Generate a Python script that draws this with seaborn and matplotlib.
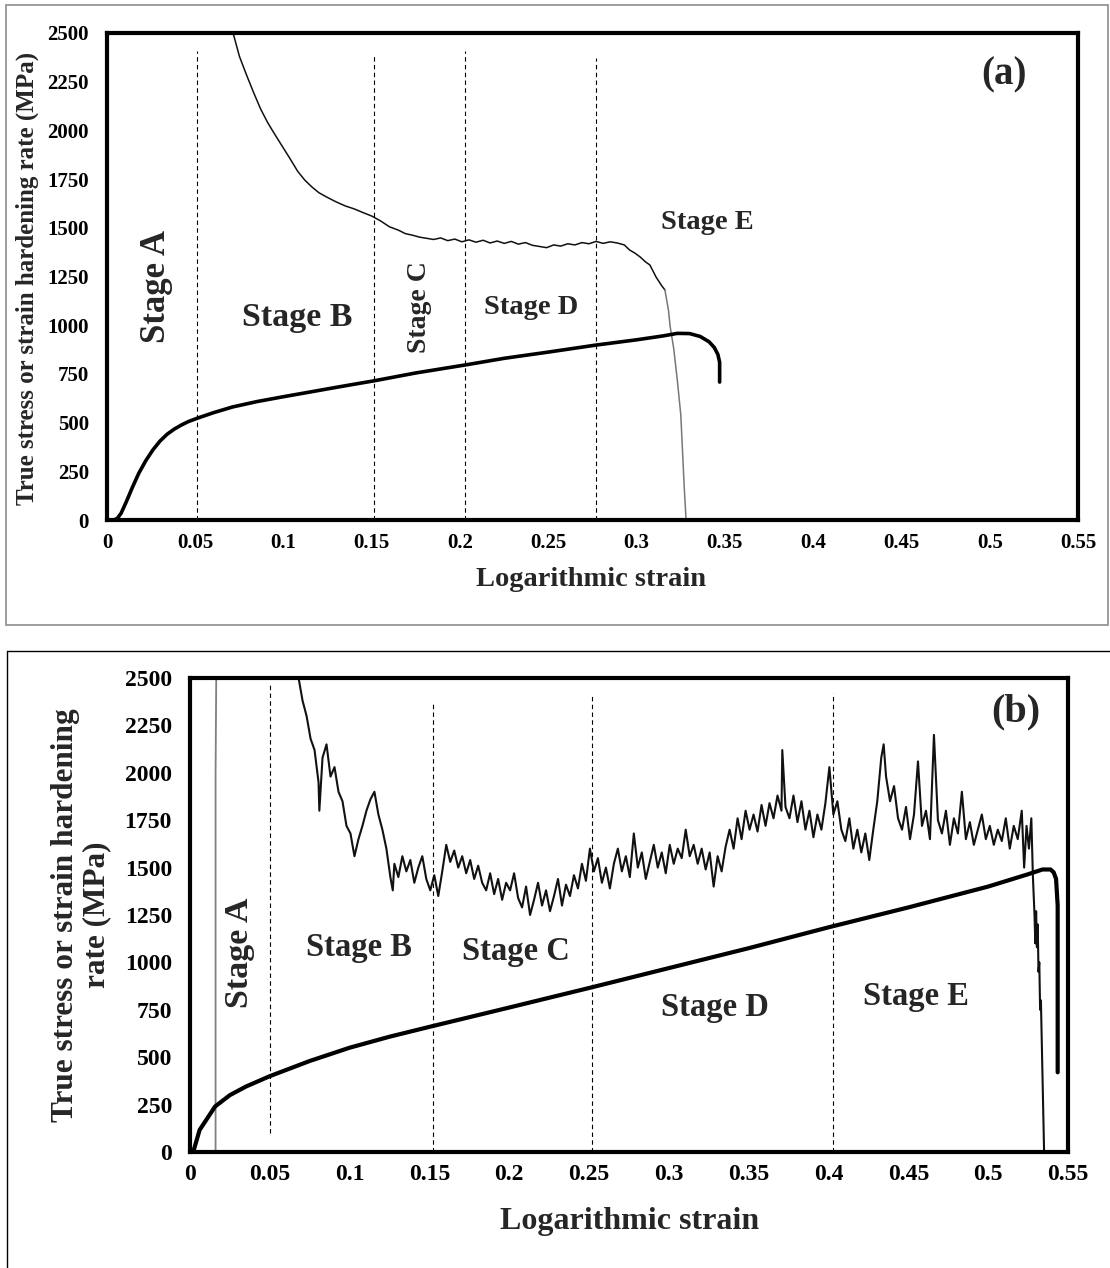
"""Two-panel true stress / strain hardening rate vs logarithmic strain."""

import matplotlib
matplotlib.use('Agg')
import matplotlib.pyplot as plt
import seaborn as sns
from matplotlib.lines import Line2D
from matplotlib.patches import Rectangle

# ---------------- data ----------------
x_ticks = [0, 0.05, 0.1, 0.15, 0.2, 0.25, 0.3, 0.35, 0.4, 0.45, 0.5, 0.55]
x_tick_labels = ['0', '0.05', '0.1', '0.15', '0.2', '0.25', '0.3', '0.35',
                 '0.4', '0.45', '0.5', '0.55']
y_ticks = [0, 250, 500, 750, 1000, 1250, 1500, 1750, 2000, 2250, 2500]

# panel (a) true stress
a_stress_x = [0.004, 0.006, 0.008, 0.011, 0.0145, 0.018, 0.022, 0.026, 0.030,
              0.034, 0.038, 0.042, 0.046, 0.051, 0.060, 0.071, 0.085, 0.100,
              0.115, 0.128, 0.140, 0.151, 0.175, 0.203, 0.225, 0.250, 0.277,
              0.300, 0.315, 0.323, 0.330, 0.336, 0.341, 0.344, 0.346, 0.347,
              0.347]
a_stress_y = [0, 10, 35, 95, 170, 240, 305, 360, 405, 440, 466, 487, 505, 522,
              550, 580, 608, 633, 657, 678, 697, 714, 755, 796, 830, 862, 898,
              925, 945, 958, 957, 942, 915, 885, 850, 810, 708]

# panel (a) strain hardening rate
a_rate_x = [0.0714, 0.075, 0.079, 0.083, 0.087, 0.091, 0.095, 0.0995, 0.104,
            0.108, 0.112, 0.116, 0.120, 0.125, 0.130, 0.135, 0.140, 0.145,
            0.150, 0.155, 0.160, 0.165, 0.169, 0.173, 0.177, 0.181, 0.185,
            0.189, 0.193, 0.197, 0.201, 0.205, 0.209, 0.213, 0.217, 0.221,
            0.225, 0.229, 0.233, 0.237, 0.241, 0.245, 0.249, 0.253, 0.257,
            0.261, 0.265, 0.269, 0.273, 0.277, 0.281, 0.285, 0.289, 0.293,
            0.296, 0.299, 0.302, 0.305, 0.3075, 0.311, 0.314, 0.316]
a_rate_y = [2500, 2380, 2285, 2195, 2110, 2040, 1980, 1915, 1850, 1790, 1745,
            1710, 1680, 1655, 1632, 1612, 1597, 1578, 1560, 1535, 1505, 1488,
            1470, 1462, 1452, 1446, 1440, 1448, 1434, 1442, 1428, 1438, 1426,
            1436, 1422, 1432, 1420, 1430, 1416, 1424, 1410, 1404, 1398, 1412,
            1406, 1418, 1412, 1424, 1418, 1430, 1420, 1428, 1422, 1412, 1386,
            1370, 1350, 1325, 1309, 1247, 1205, 1181]
a_drop_x = [0.316, 0.318, 0.319, 0.321, 0.323, 0.325, 0.326, 0.327, 0.328]
a_drop_y = [1181, 1078, 991, 880, 720, 540, 350, 160, 0]

a_dividers = [0.051, 0.151, 0.203, 0.277]
a_divider_tops = [2410, 2390, 2410, 2370]

# panel (b) true stress
b_stress_x = [0.002, 0.006, 0.0157, 0.025, 0.035, 0.050, 0.075, 0.100, 0.125,
              0.150, 0.200, 0.250, 0.300, 0.350, 0.400, 0.450, 0.500, 0.525,
              0.534, 0.539, 0.541, 0.5425, 0.5435, 0.5435]
b_stress_y = [0, 116, 240, 300, 345, 400, 480, 550, 608, 660, 762, 865, 970,
              1075, 1185, 1290, 1400, 1465, 1490, 1490, 1475, 1440, 1300, 420]

# panel (b) strain hardening rate: elastic spike then noisy record
b_elastic_x = [0.016, 0.016, 0.0165]
b_elastic_y = [0, 2000, 2600]
b_rate_x = [0.068, 0.0705, 0.073, 0.0755, 0.078, 0.0805, 0.081, 0.083, 0.0855,
            0.088, 0.0905, 0.093, 0.0955, 0.098, 0.1005, 0.103, 0.1055, 0.108,
            0.1105, 0.113, 0.1155, 0.118, 0.1205, 0.123, 0.1255, 0.127, 0.128,
            0.1305, 0.133, 0.1355, 0.138, 0.1405, 0.143, 0.1455, 0.148, 0.1505,
            0.153, 0.1555, 0.158, 0.1605, 0.163, 0.1655, 0.168, 0.1705, 0.173,
            0.1755, 0.178, 0.1805, 0.183, 0.1855, 0.188, 0.1905, 0.193, 0.1955,
            0.198, 0.2005, 0.203, 0.2055, 0.208, 0.2105, 0.213, 0.2155, 0.218,
            0.2205, 0.223, 0.2255, 0.228, 0.2305, 0.233, 0.2355, 0.238, 0.2405,
            0.243, 0.2455, 0.248, 0.2505, 0.253, 0.2555, 0.258, 0.2605, 0.263,
            0.2655, 0.268, 0.2705, 0.273, 0.2755, 0.278, 0.2805, 0.283, 0.2855,
            0.288, 0.2905, 0.293, 0.2955, 0.298, 0.3005, 0.303, 0.3055, 0.308,
            0.3105, 0.313, 0.3155, 0.318, 0.3205, 0.323, 0.3255, 0.328, 0.3305,
            0.333, 0.3355, 0.338, 0.3405, 0.343, 0.3455, 0.348, 0.3505, 0.353,
            0.3555, 0.358, 0.3605, 0.363, 0.3655, 0.368, 0.3705, 0.371, 0.373,
            0.3755, 0.378, 0.3805, 0.383, 0.3855, 0.388, 0.3905, 0.393, 0.3955,
            0.398, 0.4005, 0.403, 0.4055, 0.408, 0.4105, 0.413, 0.4155, 0.418,
            0.4205, 0.423, 0.4255, 0.428, 0.4305, 0.433, 0.4345, 0.436, 0.4385,
            0.441, 0.4435, 0.446, 0.4485, 0.451, 0.4535, 0.456, 0.4585, 0.461,
            0.4635, 0.466, 0.4685, 0.471, 0.4735, 0.476, 0.4785, 0.481, 0.4835,
            0.486, 0.4885, 0.491, 0.4935, 0.496, 0.4985, 0.501, 0.5035, 0.506,
            0.5085, 0.511, 0.5135, 0.516, 0.5185, 0.521, 0.5225, 0.524, 0.5255,
            0.527, 0.528, 0.529, 0.5295, 0.530, 0.5305, 0.531, 0.5315, 0.532,
            0.5325, 0.533, 0.5335, 0.534, 0.5345, 0.535]
b_rate_y = [2500, 2380, 2300, 2180, 2120, 1950, 1800, 2080, 2150, 1980, 2030,
            1900, 1850, 1720, 1680, 1560, 1650, 1720, 1800, 1860, 1900, 1780,
            1700, 1600, 1450, 1380, 1520, 1450, 1560, 1480, 1540, 1420, 1500,
            1560, 1440, 1380, 1460, 1350, 1480, 1620, 1530, 1590, 1500, 1560,
            1470, 1540, 1440, 1510, 1420, 1380, 1470, 1360, 1440, 1330, 1420,
            1380, 1470, 1340, 1290, 1400, 1250, 1330, 1420, 1300, 1380, 1270,
            1350, 1440, 1300, 1410, 1350, 1460, 1390, 1520, 1430, 1600, 1480,
            1550, 1420, 1500, 1390, 1520, 1600, 1480, 1560, 1450, 1680, 1500,
            1580, 1440, 1530, 1620, 1500, 1580, 1470, 1620, 1520, 1600, 1550,
            1700, 1560, 1620, 1520, 1600, 1490, 1580, 1400, 1560, 1480, 1610,
            1700, 1600, 1760, 1650, 1800, 1700, 1780, 1690, 1830, 1720, 1840,
            1760, 1880, 1800, 2120, 1820, 1760, 1880, 1740, 1850, 1700, 1800,
            1660, 1780, 1700, 1840, 2030, 1780, 1850, 1700, 1640, 1760, 1600,
            1700, 1580, 1680, 1540, 1700, 1850, 2080, 2150, 1980, 1850, 1930,
            1760, 1700, 1820, 1650, 1780, 2060, 1720, 1800, 1650, 2200, 1750,
            1680, 1800, 1620, 1760, 1680, 1900, 1650, 1740, 1620, 1700, 1780,
            1650, 1720, 1620, 1700, 1640, 1760, 1600, 1720, 1650, 1800, 1500,
            1720, 1600, 1760, 1450, 1250, 1100, 1270, 1080, 1200, 950, 1000,
            750, 800, 600, 400, 200, 0]

b_dividers = [0.050, 0.152, 0.252, 0.403]
b_divider_bottoms = [100, 0, 0, 0]
b_divider_tops = [2470, 2370, 2410, 2420]

# ---------------- style ----------------
sns.set_style('white')
plt.rcParams['font.family'] = ['Liberation Serif', 'DejaVu Serif']
plt.rcParams['font.weight'] = 'bold'

fig = plt.figure(figsize=(11.1, 12.68), dpi=100)
ax_a = fig.add_axes([0.0964, 0.5899, 0.8748, 0.3841])
ax_b = fig.add_axes([0.1712, 0.0915, 0.7910, 0.3738])

# panel frames
fig.add_artist(Rectangle((6 / 1110, 1 - 625 / 1268), 1102 / 1110, 620 / 1268,
                         transform=fig.transFigure, fill=False,
                         edgecolor='#8c8c8c', linewidth=1.2))
top_b = 1 - 651 / 1268
fig.add_artist(Line2D([7 / 1110, 1.0], [top_b, top_b], transform=fig.transFigure,
                      color='black', linewidth=1.0))
fig.add_artist(Line2D([7 / 1110, 7 / 1110], [0.0, top_b], transform=fig.transFigure,
                      color='black', linewidth=1.0))


def style_axis(ax, tick_size, spine_w):
    ax.set_xlim(0, 0.55)
    ax.set_ylim(0, 2500)
    ax.set_xticks(x_ticks)
    ax.set_xticklabels(x_tick_labels)
    ax.set_yticks(y_ticks)
    ax.set_yticklabels([str(v) for v in y_ticks])
    for s in ax.spines.values():
        s.set_linewidth(spine_w)
        s.set_color('black')
    ax.tick_params(direction='in', length=4, width=2.2, labelsize=tick_size,
                   colors='black')
    ax.tick_params(axis='y', pad=13)
    ax.tick_params(axis='x', pad=9)
    for lab in ax.get_xticklabels() + ax.get_yticklabels():
        lab.set_fontweight('bold')
    ax.grid(False)


dash = (0, (4, 3))

# ---------------- panel (a) ----------------
sns.lineplot(x=a_rate_x, y=a_rate_y, ax=ax_a, color='#111111', linewidth=1.1,
             sort=False, estimator=None)
sns.lineplot(x=a_drop_x, y=a_drop_y, ax=ax_a, color='#777777', linewidth=1.1,
             sort=False, estimator=None)
sns.lineplot(x=a_stress_x, y=a_stress_y, ax=ax_a, color='black', linewidth=2.6,
             sort=False, estimator=None)
for xv, top in zip(a_dividers, a_divider_tops):
    ax_a.plot([xv, xv], [0, top], color='black', linewidth=0.8, linestyle=dash)

style_axis(ax_a, 15, 3.0)
ax_a.set_xlabel('Logarithmic strain', fontsize=20.5, fontweight='bold')
ax_a.set_ylabel('True stress or strain hardening rate (MPa)', fontsize=18,
                fontweight='bold')
ax_a.xaxis.label.set_va('center')
ax_a.yaxis.label.set_va('center')
ax_a.xaxis.set_label_coords(0.498, -0.123)
ax_a.yaxis.set_label_coords(-0.082, 0.497)

ax_a.text(0.028, 1200, 'Stage A', rotation=90, ha='center', va='center',
          fontsize=25, fontweight='bold')
ax_a.text(0.108, 1040, 'Stage B', ha='center', va='center', fontsize=24.5,
          fontweight='bold')
ax_a.text(0.177, 1093, 'Stage C', rotation=90, ha='center', va='center',
          fontsize=20, fontweight='bold')
ax_a.text(0.240, 1093, 'Stage D', ha='center', va='center', fontsize=20.5,
          fontweight='bold')
ax_a.text(0.340, 1525, 'Stage E', ha='center', va='center', fontsize=20.5,
          fontweight='bold')
ax_a.text(0.508, 2284, '(a)', ha='center', va='center', fontsize=28,
          fontweight='bold')

# ---------------- panel (b) ----------------
sns.lineplot(x=b_elastic_x, y=b_elastic_y, ax=ax_b, color='#808080', linewidth=1.3,
             sort=False, estimator=None)
sns.lineplot(x=b_rate_x, y=b_rate_y, ax=ax_b, color='#111111', linewidth=1.5,
             sort=False, estimator=None)
sns.lineplot(x=b_stress_x, y=b_stress_y, ax=ax_b, color='black', linewidth=3.0,
             sort=False, estimator=None)
for xv, bot, top in zip(b_dividers, b_divider_bottoms, b_divider_tops):
    ax_b.plot([xv, xv], [bot, top], color='black', linewidth=0.8, linestyle=dash)

style_axis(ax_b, 17, 3.0)
ax_b.set_xlabel('Logarithmic strain', fontsize=23, fontweight='bold')
ax_b.set_ylabel('True stress or strain hardening\nrate (MPa)', fontsize=22.5,
                fontweight='bold', linespacing=1.1)
ax_b.xaxis.label.set_va('center')
ax_b.yaxis.label.set_va('center')
ax_b.xaxis.set_label_coords(0.501, -0.146)
ax_b.yaxis.set_label_coords(-0.124, 0.5)

ax_b.text(0.031, 1050, 'Stage A', rotation=90, ha='center', va='center',
          fontsize=24.5, fontweight='bold')
ax_b.text(0.1055, 1076, 'Stage B', ha='center', va='center', fontsize=23.5,
          fontweight='bold')
ax_b.text(0.204, 1055, 'Stage C', ha='center', va='center', fontsize=23.5,
          fontweight='bold')
ax_b.text(0.329, 760, 'Stage D', ha='center', va='center', fontsize=23.5,
          fontweight='bold')
ax_b.text(0.455, 818, 'Stage E', ha='center', va='center', fontsize=23.5,
          fontweight='bold')
ax_b.text(0.517, 2320, '(b)', ha='center', va='center', fontsize=29,
          fontweight='bold')

fig.savefig('out.png', dpi=100)
